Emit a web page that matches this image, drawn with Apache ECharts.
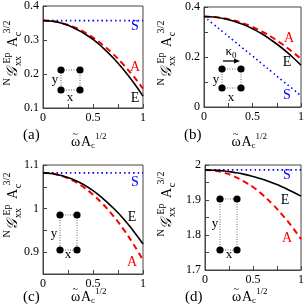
<!DOCTYPE html>
<html><head><meta charset="utf-8">
<script src="https://cdn.jsdelivr.net/npm/echarts@6/dist/echarts.min.js"></script>
<style>html,body{margin:0;padding:0;background:#fff}#c{width:307px;height:307px}</style>
</head><body><div id="c"></div>
<script>
var xs = [0,0.1,0.2,0.3,0.4,0.5,0.6,0.7,0.8,0.9,1];
// panel (a)
var aS = [0.357,0.357,0.357,0.357,0.357,0.357,0.357,0.357,0.357,0.357,0.357];
var aA = [0.357,0.355,0.349,0.339,0.325,0.307,0.285,0.259,0.229,0.195,0.157];
var aE = [0.357,0.355,0.348,0.337,0.321,0.302,0.277,0.248,0.215,0.177,0.135];
// panel (b)
var bS = [0.362,0.330,0.299,0.267,0.235,0.204,0.172,0.140,0.108,0.077,0.045];
var bA = [0.362,0.360,0.355,0.347,0.335,0.320,0.301,0.279,0.253,0.224,0.192];
var bE = [0.362,0.360,0.354,0.344,0.331,0.313,0.292,0.266,0.237,0.204,0.167];
// panel (c)
var cS = [1.082,1.082,1.082,1.082,1.082,1.082,1.082,1.082,1.082,1.082,1.082];
var cA = [1.082,1.080,1.074,1.064,1.050,1.032,1.010,0.984,0.954,0.920,0.882];
var cE = [1.082,1.080,1.075,1.067,1.056,1.041,1.023,1.002,0.978,0.950,0.919];
// panel (d)
var dS = [1.986,1.986,1.986,1.986,1.986,1.986,1.986,1.986,1.986,1.986,1.986];
var dA = [1.986,1.984,1.978,1.968,1.954,1.937,1.915,1.889,1.859,1.826,1.788];
var dE = [1.986,1.985,1.983,1.979,1.974,1.967,1.959,1.949,1.938,1.925,1.911];

var xTicks = [0,0.25,0.5,0.75,1];
var xLabels = [0,0.5,1];
var yTicksA = [0.1,0.2,0.3,0.4], yLabelsA = [0.1,0.2,0.3,0.4];
var yTicksB = [0,0.1,0.2,0.3,0.4], yLabelsB = [0,0.2,0.4];
var yTicksC = [0.9,0.95,1,1.05,1.1], yLabelsC = [0.9,1,1.1];
var yTicksD = [1.7,1.75,1.8,1.85,1.9,1.95,2], yLabelsD = [1.7,1.8,1.9,2];
var panelNames = ['(a)','(b)','(c)','(d)'];

var FONT = 'Liberation Serif';
var chart = echarts.init(document.getElementById('c'));
var grids = [
  {left:43, top:5, width:100, height:103},
  {left:204, top:7, width:99, height:100},
  {left:43, top:165, width:100, height:109},
  {left:205, top:165, width:98, height:105}
];
var letterY = [135, 135, 297, 297];
var xTitleY = [142, 142, 297, 297];
var yTitleX = [13, 167, 13, 167];
var yTitleBottom = [82, 82, 234, 233];
var yr = [[0.1,0.4],[0,0.4],[0.85,1.1],[1.7,2]];
var yT = [yTicksA,yTicksB,yTicksC,yTicksD];
var yL = [yLabelsA,yLabelsB,yLabelsC,yLabelsD];
var data = [[aS,aA,aE],[bS,bA,bE],[cS,cA,cE],[dS,dA,dE]];
function fmt(v){return String(+(+v).toFixed(2));}
function pairs(arr){return xs.map(function(x,i){return [x,arr[i]];});}

var option = {animation:false, grid:[], xAxis:[], yAxis:[], series:[], graphic:[]};
function txt(t,x,y,font,extra){
  var o = {type:'text', x:x, y:y, z:12, style:{text:t, font:font+' '+FONT, fill:'#000', align:'left', verticalAlign:'middle'}};
  if(extra){ if(extra.rotation!==undefined) o.rotation = extra.rotation; if(extra.align) o.style.align = extra.align; }
  option.graphic.push(o);
}
grids.forEach(function(g,i){
  option.grid.push(Object.assign({show:true, borderColor:'#444', borderWidth:1, backgroundColor:'transparent'}, g));
  option.xAxis.push({type:'value', gridIndex:i, min:0, max:1, splitLine:{show:false},
    axisLine:{lineStyle:{color:'#444'}},
    axisTick:{inside:true, length:4, customValues:xTicks, lineStyle:{color:'#444'}},
    axisLabel:{customValues:xLabels, formatter:fmt, color:'#000', fontFamily:FONT, fontSize:12, margin:4}});
  option.yAxis.push({type:'value', gridIndex:i, min:yr[i][0], max:yr[i][1], splitLine:{show:false},
    axisLine:{lineStyle:{color:'#444'}},
    axisTick:{inside:true, length:4, customValues:yT[i], lineStyle:{color:'#444'}},
    axisLabel:{customValues:yL[i], formatter:fmt, color:'#000', fontFamily:FONT, fontSize:12, margin:4}});
  var d = data[i];
  option.series.push({type:'line', xAxisIndex:i, yAxisIndex:i, data:pairs(d[0]), showSymbol:false, smooth:true,
    lineStyle:{color:'#0000ff', width:1.6, type:[1.5,3]}, z:2});
  option.series.push({type:'line', xAxisIndex:i, yAxisIndex:i, data:pairs(d[1]), showSymbol:false, smooth:true,
    lineStyle:{color:'#ff0000', width:2, type:[6,4]}, z:3});
  option.series.push({type:'line', xAxisIndex:i, yAxisIndex:i, data:pairs(d[2]), showSymbol:false, smooth:true,
    lineStyle:{color:'#000', width:1.6}, z:4});
  // panel letter
  txt(panelNames[i], g.left-20, letterY[i], '15px');
  // x title pieces
  var cx = g.left + g.width/2 - 22;
  var ty = xTitleY[i];
  txt('ω', cx, ty, '14px');
  txt('~', cx+1.5, ty-8, '10px');
  txt('A', cx+10, ty, '14px');
  txt('c', cx+20, ty+4, '9px');
  txt('1/2', cx+24, ty-5, '9px');
  // y title pieces (rotated, reading bottom to top)
  var X = yTitleX[i], B = yTitleBottom[i], R = {rotation:Math.PI/2, align:'center'};
  txt('N', X-6, B, '10px', R);
  txt('𝒢', X, B-10, 'italic 15px', R);
  txt('xx', X+5, B-21, '10px', R);
  txt('Ep', X-6, B-24, '10px', R);
  txt('A', X, B-40, '14px', R);
  txt('c', X+5, B-48, '10px', R);
  txt('3/2', X-6, B-55, '10px', R);
});

// curve labels
function lab(t,x,y,c){option.graphic.push({type:'text', x:x, y:y, style:{text:t, font:'14px '+FONT, fill:c, align:'center', verticalAlign:'middle'}});}
lab('S',135,26,'#0000ff'); lab('A',135,67,'#ff0000'); lab('E',135,98,'#000');
lab('A',289,38,'#ff0000'); lab('E',287,62,'#000'); lab('S',287,95,'#0000ff');
lab('S',135,182,'#0000ff'); lab('E',132,217,'#000'); lab('A',132,262,'#ff0000');
lab('S',287,175,'#0000ff'); lab('E',285,200,'#000'); lab('A',287,238,'#ff0000');

// insets
function inset(x1,x2,y1,y2,ylx,yly,xlx,xly){
  var ls = {stroke:'#666', lineWidth:1, lineDash:[1,1.5]};
  [[x1,y1,x2,y1],[x1,y2,x2,y2],[x1,y1,x1,y2],[x2,y1,x2,y2]].forEach(function(s){
    option.graphic.push({type:'line', shape:{x1:s[0],y1:s[1],x2:s[2],y2:s[3]}, style:ls, z:10});
  });
  [[x1,y1],[x2,y1],[x1,y2],[x2,y2]].forEach(function(p){
    option.graphic.push({type:'circle', shape:{cx:p[0],cy:p[1],r:3.6}, style:{fill:'#000'}, z:11});
  });
  option.graphic.push({type:'text', x:ylx, y:yly, style:{text:'y', font:'13px '+FONT, fill:'#000', align:'center', verticalAlign:'middle'}, z:11});
  option.graphic.push({type:'text', x:xlx, y:xly, style:{text:'x', font:'13px '+FONT, fill:'#000', align:'center', verticalAlign:'middle'}, z:11});
}
inset(61,80,70,90, 55,80, 70,98);
inset(222,241,69,88, 216,80, 231,98);
inset(60,77,215,250, 54,234, 68,255);
inset(220,237,199,250, 215,224, 229,255);
// arrow kappa0 in (b)
option.graphic.push({type:'line', shape:{x1:223,y1:61,x2:235,y2:61}, style:{stroke:'#000', lineWidth:1.3}, z:11});
option.graphic.push({type:'polygon', shape:{points:[[240,61],[234,58.5],[234,63.5]]}, style:{fill:'#000'}, z:11});
option.graphic.push({type:'text', x:231, y:52, style:{text:'{k|κ}{s|0}', align:'center', verticalAlign:'middle',
  rich:{k:{font:'13px '+FONT, fill:'#000', lineHeight:16, verticalAlign:'middle'}, s:{font:'9px '+FONT, fill:'#000', lineHeight:16, verticalAlign:'bottom'}}}, z:11});

chart.setOption(option);
</script></body></html>
